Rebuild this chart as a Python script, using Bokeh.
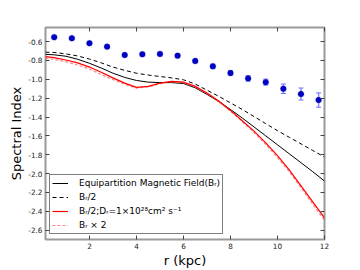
from bokeh.plotting import figure
from bokeh.models import Range1d, FixedTicker, LinearAxis, Whisker, TeeHead, ColumnDataSource, Legend, LegendItem
from bokeh.embed import file_html
from bokeh.resources import INLINE

# ---- data ----
obs_r = [0.5, 1.25, 2.0, 2.75, 3.5, 4.25, 5.0, 5.75, 6.5, 7.25, 8.0, 8.75, 9.5, 10.25, 11.0, 11.75]
obs_alpha = [-0.553, -0.564, -0.617, -0.653, -0.742, -0.734, -0.731, -0.749,
             -0.805, -0.862, -0.933, -0.99, -1.03, -1.10, -1.156, -1.22]
obs_err = [0.012, 0.012, 0.015, 0.015, 0.018, 0.018, 0.018, 0.018,
           0.02, 0.022, 0.025, 0.03, 0.032, 0.05, 0.064, 0.076]

model_r = [0.13, 0.5, 1.0, 1.5, 2.0, 2.5, 3.0, 3.5, 4.0, 4.5, 5.0, 5.5, 6.0,
           6.5, 7.0, 7.5, 8.0, 8.5, 9.0, 9.5, 10.0, 10.5, 11.0, 11.5, 12.0]
equip = [-0.735, -0.74, -0.755, -0.787, -0.83, -0.88, -0.935, -0.98, -1.012, -1.03, -1.035, -1.035, -1.045,
         -1.09, -1.16, -1.235, -1.32, -1.41, -1.505, -1.60, -1.695, -1.79, -1.885, -1.98, -2.08]
half_b = [-0.712, -0.715, -0.73, -0.752, -0.785, -0.825, -0.87, -0.905, -0.935, -0.955, -0.97, -0.985, -1.005,
          -1.05, -1.115, -1.18, -1.25, -1.32, -1.395, -1.47, -1.545, -1.615, -1.685, -1.755, -1.825]
half_b_diff = [-0.76, -0.77, -0.795, -0.825, -0.87, -0.925, -0.985, -1.04, -1.085, -1.075, -1.04, -1.022, -1.03,
               -1.075, -1.145, -1.23, -1.33, -1.44, -1.55, -1.675, -1.81, -1.96, -2.13, -2.30, -2.47]
double_b = [-0.778, -0.788, -0.813, -0.848, -0.893, -0.948, -1.003, -1.053, -1.093, -1.08, -1.047, -1.027, -1.037,
            -1.082, -1.152, -1.238, -1.338, -1.448, -1.563, -1.69, -1.83, -1.98, -2.15, -2.325, -2.495]

labels = ["Equipartition Magnetic Field(B\u1d63)",
          "B\u1d63/2",
          "B\u1d63/2;D\u1d63=1\u00d710\u00b2\u2078cm\u00b2 s\u207b\u00b9",
          "B\u1d63 \u00d7 2"]

xticks = [2, 4, 6, 8, 10, 12]
xtick_labels = ["2", "4", "6", "8", "10", "12"]
yticks = [-2.6, -2.4, -2.2, -2.0, -1.8, -1.6, -1.4, -1.2, -1.0, -0.8, -0.6]
ytick_labels = ["-2.6", "-2.4", "-2.2", "-2.0", "-1.8", "-1.6", "-1.4", "-1.2", "-1.0", "-0.8", "-0.6"]

FONT = "DejaVu Sans"
FRAME = "#9a9a9a"

p = figure(width=360, height=270, output_backend="svg", toolbar_location=None,
           x_range=Range1d(0.13, 12), y_range=Range1d(-2.7, -0.45),
           min_border_left=45, min_border_right=36, min_border_top=27, min_border_bottom=27)
p.background_fill_color = "white"
p.border_fill_color = "white"
p.outline_line_color = FRAME
p.outline_line_width = 2
p.xgrid.visible = False
p.ygrid.visible = False

def style_axis(ax, ticks, overrides):
    ax.ticker = FixedTicker(ticks=ticks)
    ax.major_label_overrides = overrides
    ax.axis_line_color = None
    ax.major_tick_in = 4
    ax.major_tick_out = 0
    ax.major_tick_line_color = "#444444"
    ax.minor_tick_line_color = None
    ax.major_label_text_font = FONT
    ax.major_label_text_font_size = "7.3px"
    ax.major_label_text_color = "#222222"
    ax.major_label_standoff = 3
    ax.axis_label_text_font = FONT
    ax.axis_label_text_font_size = "13px"
    ax.axis_label_text_font_style = "normal"
    ax.axis_label_text_color = "black"
    ax.axis_label_standoff = 1

xo = {t: l for t, l in zip(xticks, xtick_labels)}
yo = {t: l for t, l in zip(yticks, ytick_labels)}
style_axis(p.xaxis[0], xticks, xo)
style_axis(p.yaxis[0], yticks, yo)
p.xaxis[0].axis_label = "r (kpc)"
p.yaxis[0].axis_label = "Spectral Index"

top = LinearAxis()
style_axis(top, xticks, {t: "" for t in xticks})
p.add_layout(top, "above")
right = LinearAxis()
style_axis(right, yticks, {t: "" for t in yticks})
p.add_layout(right, "right")

# model curves
r1 = p.line(model_r, equip, line_color="black", line_width=1)
r2 = p.line(model_r, half_b, line_color="black", line_width=1, line_dash="4 3")
r4 = p.line(model_r, double_b, line_color="#ff5a5a", line_width=1.2, line_dash="3 2", line_alpha=0.75)
r3 = p.line(model_r, half_b_diff, line_color="red", line_width=1.2)

# observations with error bars
src = ColumnDataSource(dict(x=obs_r, y=obs_alpha,
                            lo=[a - e for a, e in zip(obs_alpha, obs_err)],
                            hi=[a + e for a, e in zip(obs_alpha, obs_err)]))
ecol = "#6f6fff"
wh = Whisker(source=src, base="x", upper="hi", lower="lo", dimension="height",
             line_color=ecol, line_width=1.5, line_alpha=0.8,
             upper_head=TeeHead(size=5, line_color=ecol, line_width=1),
             lower_head=TeeHead(size=5, line_color=ecol, line_width=1))
p.add_layout(wh)
p.scatter("x", "y", source=src, size=7, fill_color="#8a8aff", line_color=None, fill_alpha=0.5)
p.scatter("x", "y", source=src, size=5, fill_color="#0000cc", line_color="#0000aa")

legend = Legend(items=[LegendItem(label=labels[0], renderers=[r1]),
                       LegendItem(label=labels[1], renderers=[r2]),
                       LegendItem(label=labels[2], renderers=[r3]),
                       LegendItem(label=labels[3], renderers=[r4])],
                location=(4, 5))
legend.margin = 0
legend.padding = 2
legend.spacing = 2
legend.label_height = 12
legend.glyph_height = 12
legend.glyph_width = 16
legend.label_standoff = 11
legend.label_text_font = FONT
legend.label_text_font_size = "9px"
legend.label_text_color = "black"
legend.border_line_color = "black"
legend.border_line_width = 1
legend.background_fill_color = "white"
legend.background_fill_alpha = 1
p.add_layout(legend, "center")

open("out.html", "w").write(file_html(p, INLINE))
